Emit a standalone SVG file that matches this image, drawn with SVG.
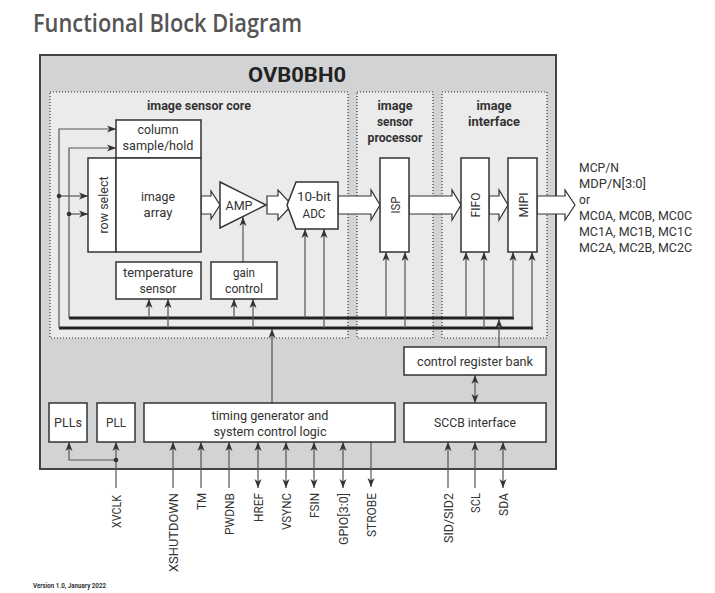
<svg xmlns="http://www.w3.org/2000/svg" width="715" height="593" viewBox="0 0 715 593">
<defs>
<marker id="ah" markerUnits="userSpaceOnUse" markerWidth="10" markerHeight="8" refX="9" refY="3.5" orient="auto-start-reverse" viewBox="0 0 10 7">
<path d="M0,0 L9,3.5 L0,7 L2.5,3.5 z" fill="#333"/>
</marker>
</defs>
<style>
text{font-family:Roboto,"Open Sans",sans-serif;fill:#333;font-size:13px}
.c{text-anchor:middle}
.b{font-weight:700}
.box{fill:#fff;stroke:#333;stroke-width:1.5}
.reg{fill:#ebebeb;stroke:#333;stroke-width:1.2;stroke-dasharray:1 2}
.ln{fill:none;stroke:#555;stroke-width:1.2}
.la{fill:none;stroke:#555;stroke-width:1.2;marker-end:url(#ah)}
.lb{fill:none;stroke:#555;stroke-width:1.2;marker-end:url(#ah);marker-start:url(#ah)}
.bus{fill:none;stroke:#222;stroke-width:3}
.blk{fill:#fff;stroke:#333;stroke-width:1.2}
.pin{text-anchor:end}
</style>
<rect width="715" height="593" fill="#fff"/>
<text x="33" y="32" style="font-family:'Open Sans',sans-serif;font-size:25px;font-weight:600;fill:#555" textLength="269" lengthAdjust="spacingAndGlyphs">Functional Block Diagram</text>

<g id="chip">
<rect x="40" y="55" width="516" height="414" fill="#d2d3d5" stroke="#444" stroke-width="2"/>
<text x="297" y="82" class="c b" style="font-size:20px;fill:#222" textLength="98" lengthAdjust="spacingAndGlyphs">OVB0BH0</text>
</g>

<g id="region-core">
<rect class="reg" x="50" y="92" width="298" height="246"/>
<text x="199" y="110" class="c b" textLength="104" lengthAdjust="spacingAndGlyphs">image sensor core</text>
</g>
<g id="region-isp">
<rect class="reg" x="357" y="92" width="76" height="246"/>
<text x="395" y="110" class="c b" textLength="35" lengthAdjust="spacingAndGlyphs">image</text>
<text x="395" y="126" class="c b" textLength="36" lengthAdjust="spacingAndGlyphs">sensor</text>
<text x="395" y="142" class="c b" textLength="55" lengthAdjust="spacingAndGlyphs">processor</text>
</g>
<g id="region-interface">
<rect class="reg" x="442" y="92" width="105" height="246"/>
<text x="494" y="110" class="c b" textLength="35" lengthAdjust="spacingAndGlyphs">image</text>
<text x="494" y="126" class="c b" textLength="52" lengthAdjust="spacingAndGlyphs">interface</text>
</g>

<g id="connectors">
<path class="bus" d="M69,318 H514"/>
<path class="bus" d="M59,328 H533"/>
<path class="la" d="M59,328 V129 H116"/>
<path class="la" d="M69,318 V148 H116"/>
<path class="la" d="M59,196 H88"/>
<path class="la" d="M69,214 H88"/>
<circle cx="59" cy="196" r="2.3" fill="#333"/>
<circle cx="69" cy="214" r="2.3" fill="#333"/>
<path class="la" d="M149,318 V299"/>
<path class="la" d="M168,328 V299"/>
<path class="la" d="M234,318 V299"/>
<path class="la" d="M253,328 V299"/>
<path class="la" d="M243,262 V217"/>
<path class="la" d="M305,318 V229"/>
<path class="la" d="M324,328 V229"/>
<path class="la" d="M386,318 V252"/>
<path class="la" d="M405,328 V252"/>
<path class="la" d="M466,318 V252"/>
<path class="la" d="M484,328 V252"/>
<path class="la" d="M513,318 V252"/>
<path class="la" d="M532,328 V252"/>
<path class="la" d="M272,403 V329"/>
<path class="la" d="M499,347 V319"/>
<path class="lb" d="M475,375 V403"/>
<path class="la" d="M116,488 V442"/>
<path class="la" d="M116,460 H69 V442"/>
<circle cx="116" cy="460" r="2.3" fill="#333"/>
<path class="la" d="M173,488 V442"/>
<path class="la" d="M201,488 V442"/>
<path class="la" d="M229,488 V442"/>
<path class="lb" d="M258,488 V442"/>
<path class="lb" d="M286,488 V442"/>
<path class="lb" d="M314,488 V442"/>
<path class="lb" d="M343,488 V442"/>
<path class="la" d="M371,442 V487"/>
<path class="la" d="M448,488 V442"/>
<path class="la" d="M475,488 V442"/>
<path class="lb" d="M503,488 V442"/>
<polygon class="blk" points="201,196 211,196 211,191 220,205 211,219 211,214 201,214"/>
<polygon class="blk" points="267,196 278,196 278,190 292,205 278,220 278,214 267,214"/>
<polygon class="blk" points="338,196 371,196 371,190 380,205 371,220 371,214 338,214"/>
<polygon class="blk" points="409,196 452,196 452,190 461,205 452,220 452,214 409,214"/>
<polygon class="blk" points="489,196 499,196 499,190 508,205 499,220 499,214 489,214"/>
<polygon class="blk" points="537,196 565,196 565,190 575,205 565,220 565,214 537,214"/>
</g>

<g id="column-sample-hold">
<rect class="box" x="116" y="120" width="85" height="38"/>
<text x="158" y="134" class="c" textLength="41" lengthAdjust="spacingAndGlyphs">column</text>
<text x="158" y="150" class="c" textLength="71" lengthAdjust="spacingAndGlyphs">sample/hold</text>
</g>
<g id="row-select">
<rect class="box" x="88" y="158" width="28" height="94"/>
<text transform="translate(103,205) rotate(-90)" dy="4.5" class="c" textLength="57" lengthAdjust="spacingAndGlyphs">row select</text>
</g>
<g id="image-array">
<rect class="box" x="116" y="158" width="85" height="94"/>
<text x="158" y="201" class="c" textLength="34" lengthAdjust="spacingAndGlyphs">image</text>
<text x="158" y="217" class="c" textLength="29" lengthAdjust="spacingAndGlyphs">array</text>
</g>
<g id="amp">
<polygon class="box" points="220,182 266,205 220,228"/>
<text x="239" y="210" class="c" textLength="27" lengthAdjust="spacingAndGlyphs">AMP</text>
</g>
<g id="adc">
<polygon class="box" points="287,205 296,182 338,182 338,229 296,229"/>
<text x="314" y="201" class="c" textLength="34" lengthAdjust="spacingAndGlyphs">10-bit</text>
<text x="314" y="218" class="c" textLength="23" lengthAdjust="spacingAndGlyphs">ADC</text>
</g>
<g id="temperature-sensor">
<rect class="box" x="116" y="262" width="85" height="37"/>
<text x="158" y="276.5" class="c" textLength="70" lengthAdjust="spacingAndGlyphs">temperature</text>
<text x="158" y="292.5" class="c" textLength="37" lengthAdjust="spacingAndGlyphs">sensor</text>
</g>
<g id="gain-control">
<rect class="box" x="211" y="262" width="66" height="37"/>
<text x="244" y="276.5" class="c" textLength="22" lengthAdjust="spacingAndGlyphs">gain</text>
<text x="244" y="292.5" class="c" textLength="38" lengthAdjust="spacingAndGlyphs">control</text>
</g>
<g id="isp">
<rect class="box" x="380" y="158" width="29" height="94"/>
<text transform="translate(395,205) rotate(-90)" dy="4.5" class="c" textLength="17" lengthAdjust="spacingAndGlyphs">ISP</text>
</g>
<g id="fifo">
<rect class="box" x="461" y="158" width="28" height="94"/>
<text transform="translate(475,205) rotate(-90)" dy="4.5" class="c" textLength="25" lengthAdjust="spacingAndGlyphs">FIFO</text>
</g>
<g id="mipi">
<rect class="box" x="508" y="158" width="29" height="94"/>
<text transform="translate(523,205) rotate(-90)" dy="4.5" class="c" textLength="25" lengthAdjust="spacingAndGlyphs">MIPI</text>
</g>
<g id="control-register-bank">
<rect class="box" x="404" y="347" width="142" height="28"/>
<text x="475" y="365.5" class="c" textLength="116" lengthAdjust="spacingAndGlyphs">control register bank</text>
</g>
<g id="sccb-interface">
<rect class="box" x="404" y="403" width="142" height="39"/>
<text x="475" y="426.5" class="c" textLength="82" lengthAdjust="spacingAndGlyphs">SCCB interface</text>
</g>
<g id="timing-generator">
<rect class="box" x="144" y="403" width="251" height="39"/>
<text x="270" y="419.5" class="c" textLength="117" lengthAdjust="spacingAndGlyphs">timing generator and</text>
<text x="270" y="435.5" class="c" textLength="113" lengthAdjust="spacingAndGlyphs">system control logic</text>
</g>
<g id="plls">
<rect class="box" x="49" y="403" width="38" height="39"/>
<text x="68" y="426.5" class="c" textLength="28" lengthAdjust="spacingAndGlyphs">PLLs</text>
</g>
<g id="pll">
<rect class="box" x="97" y="403" width="38" height="39"/>
<text x="116" y="426.5" class="c" textLength="20" lengthAdjust="spacingAndGlyphs">PLL</text>
</g>

<g id="output-labels">
<text x="579" y="172" textLength="40" lengthAdjust="spacingAndGlyphs">MCP/N</text>
<text x="579" y="188" textLength="67" lengthAdjust="spacingAndGlyphs">MDP/N[3:0]</text>
<text x="579" y="204" textLength="11" lengthAdjust="spacingAndGlyphs">or</text>
<text x="579" y="220" textLength="113" lengthAdjust="spacingAndGlyphs">MC0A, MC0B, MC0C</text>
<text x="579" y="236" textLength="113" lengthAdjust="spacingAndGlyphs">MC1A, MC1B, MC1C</text>
<text x="579" y="252" textLength="113" lengthAdjust="spacingAndGlyphs">MC2A, MC2B, MC2C</text>
</g>

<g id="pin-labels">
<text transform="translate(116,495) rotate(-90)" dy="4.5" class="pin" textLength="33" lengthAdjust="spacingAndGlyphs">XVCLK</text>
<text transform="translate(173,493) rotate(-90)" dy="4.5" class="pin" textLength="79" lengthAdjust="spacingAndGlyphs">XSHUTDOWN</text>
<text transform="translate(201,493) rotate(-90)" dy="4.5" class="pin" textLength="17" lengthAdjust="spacingAndGlyphs">TM</text>
<text transform="translate(229,493) rotate(-90)" dy="4.5" class="pin" textLength="42" lengthAdjust="spacingAndGlyphs">PWDNB</text>
<text transform="translate(258,493) rotate(-90)" dy="4.5" class="pin" textLength="29" lengthAdjust="spacingAndGlyphs">HREF</text>
<text transform="translate(286,493) rotate(-90)" dy="4.5" class="pin" textLength="37" lengthAdjust="spacingAndGlyphs">VSYNC</text>
<text transform="translate(314,493) rotate(-90)" dy="4.5" class="pin" textLength="25" lengthAdjust="spacingAndGlyphs">FSIN</text>
<text transform="translate(343,493) rotate(-90)" dy="4.5" class="pin" textLength="52" lengthAdjust="spacingAndGlyphs">GPIO[3:0]</text>
<text transform="translate(371,493) rotate(-90)" dy="4.5" class="pin" textLength="44" lengthAdjust="spacingAndGlyphs">STROBE</text>
<text transform="translate(448,493) rotate(-90)" dy="4.5" class="pin" textLength="50" lengthAdjust="spacingAndGlyphs">SID/SID2</text>
<text transform="translate(475,493) rotate(-90)" dy="4.5" class="pin" textLength="20" lengthAdjust="spacingAndGlyphs">SCL</text>
<text transform="translate(503,493) rotate(-90)" dy="4.5" class="pin" textLength="23" lengthAdjust="spacingAndGlyphs">SDA</text>
</g>

<text x="33" y="588" style="font-size:6.5px;font-weight:700" textLength="73" lengthAdjust="spacingAndGlyphs">Version 1.0, January 2022</text>
</svg>
